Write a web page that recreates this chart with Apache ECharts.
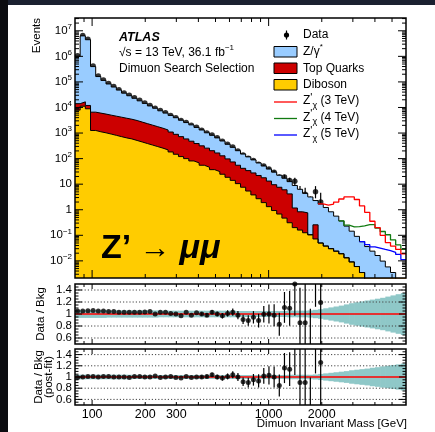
<!DOCTYPE html>
<html>
<head>
<meta charset="utf-8">
<title>Z' to mumu - dimuon invariant mass</title>
<script src="https://cdn.jsdelivr.net/npm/echarts@6.0.0/dist/echarts.min.js"></script>
<style>
  html, body { margin: 0; padding: 0; background: #fff; }
  #chart { position: absolute; left: 0; top: 0; width: 435px; height: 432px; }
  .edge-top { position: absolute; left: 0; top: 0; width: 435px; height: 5px; background: #1b2130; }
  .edge-left { position: absolute; left: 0; top: 0; width: 8px; height: 432px; background: #0b0c10; }
</style>
</head>
<body>
<div id="chart"></div>
<div class="edge-top"></div>
<div class="edge-left"></div>
<script>
var FONT = '"Liberation Sans", Arial, Helvetica, sans-serif'
var colors = { zgamma: '#99ccff', top: '#cc0000', diboson: '#ffcc00', band: '#8fc8c8' }

// log-spaced mass bins [GeV]
var binEdges = [80, 85.58, 91.56, 97.95, 104.8, 112.1, 119.9, 128.3, 137.2, 146.8,
  157.1, 168.0, 179.8, 192.3, 205.7, 220.1, 235.5, 251.9, 269.5, 288.3,
  308.4, 329.9, 353.0, 377.6, 404.0, 432.2, 462.3, 494.6, 529.1, 566.0,
  605.5, 647.8, 693.0, 741.3, 793.0, 848.4, 907.6, 970.9, 1038.7, 1111.2,
  1188.7, 1271.7, 1360.5, 1455.4, 1557.0, 1665.7, 1781.9, 1906.3, 2039.3, 2181.6,
  2333.9, 2496.8, 2671.0, 2857.4, 3056.9, 3270.2, 3498.5, 3742.6, 4003.8, 4283.2,
  4582.2, 4902.0, 5244.1, 5610.1, 6000]

// expected events per bin
var zGamma = [9.9e5, 6.3e6, 4.46e6, 3.91e5, 1.56e5, 1.09e5, 7.8e4, 5.85e4, 4.37e4, 3.25e4,
  2.53e4, 1.98e4, 1.55e4, 1.21e4, 9460, 7550, 5860, 4710, 3800, 3090,
  2440, 1980, 1610, 1270, 1000, 766, 609, 480, 361, 265,
  201, 149, 109, 83, 61.6, 45.7, 33.5, 25.7, 20.0, 14.8,
  11.0, 8.4, 7.74, 5.48, 3.61, 3.06, 2.03, 1.61, 1.19, 0.80,
  0.538, 0.344, 0.216, 0.136, 0.085, 0.0527, 0.0363, 0.024, 0.0162, 0.0098,
  0.0058, 0.0035, 0, 0]
var topQuarks = [6200, 5400, 3100, 5300, 4900, 4500, 4100, 3760, 3450, 3150,
  2880, 2580, 2240, 1950, 1700, 1480, 1290, 1100, 914, 743,
  604, 489, 398, 321, 261, 211, 167, 135, 104, 79,
  60, 44.5, 34.1, 28.5, 23.7, 19.2, 15.9, 11.9, 8.6, 6.9,
  5.56, 3.86, 0.97, 0.67, 0.63, 0, 0.185, 0, 0, 0,
  0, 0, 0, 0, 0, 0, 0, 0, 0, 0,
  0, 0, 0, 0]
var diboson = [7900, 11200, 8900, 1260, 1120, 1020, 912, 813, 724, 646,
  589, 513, 447, 389, 339, 295, 257, 219, 182, 148,
  120, 100, 81, 68, 55, 46, 37, 31, 24.5, 18.6,
  14.1, 10.5, 7.6, 5.4, 3.8, 2.7, 1.9, 1.32, 0.93, 0.68,
  0.47, 0.31, 0.20, 0.16, 0.126, 0.105, 0.072, 0.050, 0.038, 0.030,
  0.024, 0.019, 0.0132, 0.0091, 0.0060, 0.0035, 0, 0, 0, 0,
  0, 0, 0, 0]

// background + signal lines, starting at the given bin
var zp3Start = 47
var zp3 = [1.7, 1.51, 1.66, 2.0, 2.63, 3.16, 3.16, 2.51, 1.41, 0.79, 0.355, 0.20, 0.10, 0.052, 0.038, 0.028, 0.019]
var zp4Start = 51
var zp4 = [0.37, 0.25, 0.214, 0.219, 0.234, 0.263, 0.263, 0.19, 0.141, 0.105, 0.066, 0.042, 0.028]
var zp5Start = 55
var zp5 = [0.057, 0.043, 0.0355, 0.0316, 0.028, 0.025, 0.0214, 0.0178, 0.0112]

// observed events (bins after these are empty)
var dataEvents = [1.05e6, 6.6e6, 4.7e6, 4.2e5, 1.7e5, 1.2e5, 8.7e4, 6.6e4, 4.9e4, 3.7e4,
  3.0e4, 2.4e4, 1.9e4, 1.5e4, 1.2e4, 9300, 7600, 6200, 4900, 4000,
  3100, 2600, 2000, 1700, 1300, 1000, 840, 650, 475, 367,
  283, 200, 138, 104, 84, 60, 51, 39, 29, 19,
  19, 14, 13, 5, 4, 1, 5, 2]
// statistical errors on data, from bin errFrom on (smaller ones are hidden by the markers)
var errFrom = 24
var dataErrUp = [36, 32, 29, 25.5, 21.8, 19.2, 16.8, 14.1, 11.7, 10.2, 9.2, 7.7, 7.1, 6.2, 5.4, 4.4, 4.4, 3.7, 4.7, 3.4, 3.2, 2.3, 3.4, 2.6]
var dataErrDown = [36, 32, 29, 25.5, 21.8, 19.2, 16.8, 14.1, 11.7, 10.2, 9.2, 7.7, 7.1, 6.2, 5.4, 4.4, 4.4, 3.7, 4.6, 2.2, 1.9, 0.83, 2.2, 1.3]

// data / background
var ratioPre = [1.05, 1.05, 1.055, 1.06, 1.05, 1.05, 1.04, 1.04, 1.03, 1.03,
  1.03, 1.03, 1.03, 1.035, 1.04, 1.0, 1.03, 1.03, 1.01, 1.0,
  0.97, 1.03, 0.98, 1.02, 1.0, 0.98, 1.03, 1.0, 0.97, 1.01,
  1.03, 0.98, 0.91, 0.89, 0.945, 0.89, 0.995, 1.0, 0.98, 0.83,
  1.11, 1.095, 1.5, 0.855, 0.855, 0.33, 2.0, 1.19]
var ratioPost = [0.99, 1.0, 1.01, 1.01, 1.0, 1.01, 1.01, 1.0, 1.0, 1.0,
  0.99, 1.01, 1.01, 1.0, 1.0, 1.02, 0.99, 1.0, 1.01, 0.99,
  0.98, 1.01, 0.99, 1.0, 1.0, 1.01, 1.04, 1.0, 0.98, 1.01,
  1.04, 1.0, 0.915, 0.9, 0.95, 0.93, 1.02, 1.03, 1.0, 0.85,
  1.16, 1.14, 1.6, 0.9, 0.9, 0.3, 1.9, 1.26]

// relative background uncertainty (half width of band)
var bandPre = [0.065, 0.065, 0.065, 0.065, 0.065, 0.065, 0.06, 0.06, 0.06, 0.06,
  0.06, 0.06, 0.06, 0.06, 0.06, 0.06, 0.055, 0.055, 0.055, 0.055,
  0.055, 0.055, 0.055, 0.055, 0.055, 0.055, 0.055, 0.055, 0.055, 0.055,
  0.055, 0.05, 0.05, 0.05, 0.05, 0.05, 0.05, 0.05, 0.05, 0.05,
  0.05, 0.055, 0.055, 0.055, 0.055, 0.06, 0.07, 0.08, 0.095, 0.11,
  0.125, 0.14, 0.16, 0.18, 0.195, 0.21, 0.225, 0.24, 0.255, 0.27,
  0.29, 0.31, 0.33, 0.35]
var bandPost = [0.04, 0.04, 0.04, 0.04, 0.04, 0.04, 0.04, 0.04, 0.04, 0.04,
  0.04, 0.035, 0.035, 0.035, 0.035, 0.035, 0.035, 0.035, 0.035, 0.035,
  0.035, 0.035, 0.035, 0.035, 0.035, 0.035, 0.035, 0.035, 0.035, 0.035,
  0.035, 0.035, 0.035, 0.035, 0.035, 0.035, 0.035, 0.035, 0.035, 0.035,
  0.035, 0.04, 0.04, 0.04, 0.04, 0.04, 0.045, 0.055, 0.065, 0.075,
  0.085, 0.095, 0.105, 0.12, 0.13, 0.14, 0.15, 0.165, 0.175, 0.19,
  0.2, 0.215, 0.225, 0.24]

// axis ticks / labels
var massLabels = [100, 200, 300, 1000, 2000]
var massTicksMajor = [100, 1000]
var massTicksMinor = [90, 200, 300, 400, 500, 600, 700, 800, 900, 2000, 3000, 4000, 5000]
var eventDecades = [-2, -1, 0, 1, 2, 3, 4, 5, 6, 7]
var ratioLabels = [0.6, 0.8, 1, 1.2, 1.4]
var ratioTicksMinor = [0.55, 0.65, 0.7, 0.75, 0.85, 0.9, 0.95, 1.05, 1.1, 1.15, 1.25, 1.3, 1.35, 1.45]

var lg = Math.log10
var XMIN = lg(80), XMAX = lg(6000)
var YMIN = -2.67, YMAX = 7.5
var FLOOR = -10

function logOrFloor(v) { return v > 0 ? lg(v) : FLOOR }
var centres = []
for (var i = 0; i < binEdges.length - 1; i++) centres.push((lg(binEdges[i]) + lg(binEdges[i + 1])) / 2)

var stackTop = diboson.map(function (d, i) { return d + topQuarks[i] })
var stackAll = stackTop.map(function (d, i) { return d + zGamma[i] })

function stepData(values, start) {
  var pts = []
  for (var i = 0; i < values.length; i++) pts.push([lg(binEdges[start + i]), logOrFloor(values[i])])
  pts.push([lg(binEdges[start + values.length]), logOrFloor(values[values.length - 1])])
  return pts
}

function histSeries(values, fill) {
  return {
    type: 'line', xAxisIndex: 0, yAxisIndex: 0, step: 'end', symbol: 'none', clip: true, silent: true,
    data: stepData(values, 0),
    lineStyle: { color: '#000', width: 1 },
    areaStyle: { color: fill, opacity: 1, origin: 'start' }
  }
}
function signalSeries(values, start, color) {
  return {
    type: 'line', xAxisIndex: 0, yAxisIndex: 0, step: 'end', symbol: 'none', clip: true, silent: true,
    data: stepData(values, start),
    lineStyle: { color: color, width: 1.3 }
  }
}
function errorBars(gi, items) {
  return {
    type: 'custom', xAxisIndex: gi, yAxisIndex: gi, clip: true, silent: true,
    encode: { x: 0, y: [1, 2] },
    data: items,
    renderItem: function (params, api) {
      var a = api.coord([api.value(0), api.value(1)])
      var b = api.coord([api.value(0), api.value(2)])
      return { type: 'line', shape: { x1: a[0], y1: a[1], x2: b[0], y2: b[1] }, style: { stroke: '#000', lineWidth: 1.2 } }
    }
  }
}
function points(gi, items, size) {
  return {
    type: 'scatter', xAxisIndex: gi, yAxisIndex: gi, clip: true, silent: true,
    symbol: 'circle', symbolSize: size, itemStyle: { color: '#000' }, data: items
  }
}
function bandSeries(gi, half) {
  var items = half.map(function (h, i) { return [lg(binEdges[i]), lg(binEdges[i + 1]), 1 - h, 1 + h] })
  return {
    type: 'custom', xAxisIndex: gi, yAxisIndex: gi, clip: true, silent: true,
    encode: { x: [0, 1], y: [2, 3] },
    data: items,
    renderItem: function (params, api) {
      var p0 = api.coord([api.value(0), api.value(3)])
      var p1 = api.coord([api.value(1), api.value(2)])
      return { type: 'rect', shape: { x: p0[0], y: p0[1], width: p1[0] - p0[0] + 0.6, height: p1[1] - p0[1] }, style: { fill: colors.band } }
    }
  }
}
function guideSeries(gi) {
  var items = [[0.6, 0], [0.8, 0], [1.2, 0], [1.4, 0], [1, 1]]
  return {
    type: 'custom', xAxisIndex: gi, yAxisIndex: gi, silent: true, data: items,
    renderItem: function (params, api) {
      var cs = params.coordSys
      var y = api.coord([XMIN, api.value(0)])[1]
      var red = api.value(1) === 1
      return {
        type: 'line', shape: { x1: cs.x, y1: y, x2: cs.x + cs.width, y2: y },
        style: red ? { stroke: '#ff0000', lineWidth: 1.6 } : { stroke: '#444', lineWidth: 1, lineDash: [1.2, 2] }
      }
    }
  }
}
// ratio-axis tick labels, placed through the axis scale
function ratioLabelSeries(gi) {
  return {
    type: 'custom', xAxisIndex: gi, yAxisIndex: gi, silent: true, clip: false, z: 6,
    data: ratioLabels.map(function (v) { return [XMIN, v] }),
    renderItem: function (params, api) {
      var cs = params.coordSys
      var v = api.value(1)
      var y = api.coord([XMIN, v])[1]
      return {
        type: 'text', x: cs.x - 3, y: y,
        style: {
          text: String(v), fill: '#000', fontSize: 11.5, fontFamily: FONT,
          align: 'right', verticalAlign: 'middle', textAlign: 'right', textVerticalAlign: 'middle'
        }
      }
    }
  }
}
function frameSeries(gi, yRef, yMaj, yMin, lx, ly) {
  var items = [[0, 4, 0]]
  massTicksMajor.forEach(function (v) { items.push([lg(v), 0, lx[0]], [lg(v), 1, lx[0]]) })
  massTicksMinor.forEach(function (v) { items.push([lg(v), 0, lx[1]], [lg(v), 1, lx[1]]) })
  yMaj.forEach(function (v) { items.push([v, 2, ly[0]], [v, 3, ly[0]]) })
  yMin.forEach(function (v) { items.push([v, 2, ly[1]], [v, 3, ly[1]]) })
  return {
    type: 'custom', xAxisIndex: gi, yAxisIndex: gi, silent: true, clip: false, z: 5, data: items,
    renderItem: function (params, api) {
      var cs = params.coordSys
      var v = api.value(0), side = api.value(1), len = api.value(2)
      if (side === 4) {
        return { type: 'rect', shape: { x: cs.x, y: cs.y, width: cs.width, height: cs.height }, style: { fill: 'none', stroke: '#000', lineWidth: 1.5 } }
      }
      var s
      if (side < 2) {
        var px = api.coord([v, yRef])[0]
        var py = side === 0 ? cs.y + cs.height : cs.y
        s = { x1: px, y1: py, x2: px, y2: side === 0 ? py - len : py + len }
      } else {
        var qy = api.coord([XMIN, v])[1]
        var qx = side === 2 ? cs.x : cs.x + cs.width
        s = { x1: qx, y1: qy, x2: side === 2 ? qx + len : qx - len, y2: qy }
      }
      return { type: 'line', shape: s, style: { stroke: '#000', lineWidth: 1 } }
    }
  }
}

// minor log ticks of the event axis
var eventMinor = []
for (var n = -3; n <= 7; n++) {
  for (var k = 2; k <= 9; k++) {
    var t = n + lg(k)
    if (t > YMIN && t < YMAX) eventMinor.push(t)
  }
}

// data items
var mainPts = [], mainErr = [], prePts = [], preErr = [], postPts = [], postErr = []
dataEvents.forEach(function (nv, i) {
  mainPts.push([centres[i], lg(nv)])
  prePts.push([centres[i], ratioPre[i]])
  postPts.push([centres[i], ratioPost[i]])
  if (i >= errFrom) {
    var up = dataErrUp[i - errFrom], dn = dataErrDown[i - errFrom]
    mainErr.push([centres[i], logOrFloor(nv - dn), lg(nv + up)])
    preErr.push([centres[i], ratioPre[i] * (1 - dn / nv), ratioPre[i] * (1 + up / nv)])
    postErr.push([centres[i], ratioPost[i] * (1 - dn / nv), ratioPost[i] * (1 + up / nv)])
  }
})

function decadeLabel(v) {
  if (v === 0) return '{b|1}'
  if (v === 1) return '{b|10}'
  return '{b|10}{s|' + (v < 0 ? '\u2212' + (-v) : v) + '}'
}

function xAxisFor(gi) {
  return {
    type: 'value', gridIndex: gi, min: XMIN, max: XMAX,
    axisLine: { show: false }, axisTick: { show: false }, splitLine: { show: false },
    axisLabel: gi === 2 ? {
      customValues: massLabels.map(lg), margin: 3, color: '#000', fontSize: 12.5, fontFamily: FONT,
      showMinLabel: true, showMaxLabel: true, hideOverlap: false,
      formatter: function (v) { return String(Math.round(Math.pow(10, v))) }
    } : { show: false }
  }
}
function ratioAxis(gi) {
  return {
    type: 'value', gridIndex: gi, min: 0.5, max: 1.5,
    axisLine: { show: false }, axisTick: { show: false }, splitLine: { show: false },
    axisLabel: { show: false }
  }
}

function txt(x, y, text, size, o) {
  o = o || {}
  return {
    type: 'text', x: x, y: y, z: 100, silent: true, rotation: o.rotation || 0,
    style: {
      text: text, fill: '#000', fontSize: size, fontFamily: FONT,
      fontWeight: o.weight || 'normal', fontStyle: o.italic ? 'italic' : 'normal',
      align: o.align || 'left', verticalAlign: 'middle',
      textAlign: o.align || 'left', textVerticalAlign: 'middle',
      rich: o.rich
    }
  }
}
function tok(size, extra) {
  return Object.assign({ fontSize: size, fontFamily: FONT, fill: '#000' }, extra || {})
}
var legendRich = {
  b: tok(12, { lineHeight: 18 }),
  p: tok(8, { lineHeight: 8, verticalAlign: 'top' }),
  q: tok(11, { lineHeight: 11, verticalAlign: 'top' }),
  c: tok(9, { lineHeight: 9, verticalAlign: 'bottom' })
}
var lx = 274, ltx = 303
var graphics = [
  txt(37, 18, 'Events', 11.5, { rotation: Math.PI / 2, align: 'right' }),
  txt(40.5, 314, 'Data / Bkg', 11.5, { rotation: Math.PI / 2, align: 'center' }),
  txt(38.5, 377, 'Data / Bkg', 11.5, { rotation: Math.PI / 2, align: 'center' }),
  txt(49, 377, '(post-fit)', 11.5, { rotation: Math.PI / 2, align: 'center' }),
  txt(119, 37.5, 'ATLAS', 12.5, { weight: 'bold', italic: true }),
  txt(119, 53, '{b|\u221As = 13 TeV, 36.1 fb}{p|\u22121}', 12, { rich: legendRich }),
  txt(119, 68.5, 'Dimuon Search Selection', 12),
  txt(407, 424, 'Dimuon Invariant Mass [GeV]', 11.5, { align: 'right' }),
  txt(101, 249, '{z|Z\u2019}{a| \u2192 }{m|\u03BC\u03BC}', 34, {
    rich: {
      z: tok(34, { fontWeight: 'bold' }),
      a: tok(31),
      m: tok(34, { fontWeight: 'bold', fontStyle: 'italic' })
    }
  }),
  // legend
  { type: 'line', z: 100, silent: true, shape: { x1: 286.5, y1: 30.5, x2: 286.5, y2: 39.5 }, style: { stroke: '#000', lineWidth: 1.2 } },
  { type: 'circle', z: 100, silent: true, shape: { cx: 286.5, cy: 35, r: 2.6 }, style: { fill: '#000' } },
  txt(ltx, 35, 'Data', 12),
  { type: 'rect', z: 100, silent: true, shape: { x: lx, y: 46.5, width: 23, height: 10.5 }, style: { fill: colors.zgamma, stroke: '#000', lineWidth: 1 } },
  txt(ltx, 52, '{b|Z/\u03B3}{p|*}', 12, { rich: legendRich }),
  { type: 'rect', z: 100, silent: true, shape: { x: lx, y: 63, width: 23, height: 10.5 }, style: { fill: colors.top, stroke: '#000', lineWidth: 1 } },
  txt(ltx, 68.5, 'Top Quarks', 12),
  { type: 'rect', z: 100, silent: true, shape: { x: lx, y: 79.5, width: 23, height: 10.5 }, style: { fill: colors.diboson, stroke: '#000', lineWidth: 1 } },
  txt(ltx, 85, 'Diboson', 12)
]
var sigLegend = [['3', '#ff0000', 102], ['4', '#117a11', 118.5], ['5', '#0000ff', 135]]
sigLegend.forEach(function (s) {
  graphics.push({ type: 'line', z: 100, silent: true, shape: { x1: lx, y1: s[2], x2: lx + 23, y2: s[2] }, style: { stroke: s[1], lineWidth: 1.3 } })
  graphics.push(txt(ltx, s[2] - 1, '{b|Z}{q|\'}{c|\u03C7}{b| (' + s[0] + ' TeV)}', 12, { rich: legendRich }))
})

var chart = echarts.init(document.getElementById('chart'))
chart.setOption({
  animation: false,
  backgroundColor: '#fff',
  textStyle: { fontFamily: FONT },
  grid: [
    { left: 75, right: 29, top: 18, height: 260, outerBoundsMode: 'none' },
    { left: 75, right: 29, top: 284, height: 60, outerBoundsMode: 'none' },
    { left: 75, right: 29, top: 349, height: 56, outerBoundsMode: 'none' }
  ],
  xAxis: [xAxisFor(0), xAxisFor(1), xAxisFor(2)],
  yAxis: [
    {
      type: 'value', gridIndex: 0, min: YMIN, max: YMAX,
      axisLine: { show: false }, axisTick: { show: false }, splitLine: { show: false },
      axisLabel: {
        customValues: eventDecades, margin: 3, color: '#000', formatter: decadeLabel,
        showMinLabel: true, showMaxLabel: true, hideOverlap: false,
        rich: {
          b: { fontSize: 11.5, lineHeight: 16, fontFamily: FONT, color: '#000' },
          s: { fontSize: 8, lineHeight: 8, verticalAlign: 'top', fontFamily: FONT, color: '#000' }
        }
      }
    },
    ratioAxis(1),
    ratioAxis(2)
  ],
  series: [
    histSeries(stackAll, colors.zgamma),
    histSeries(stackTop, colors.top),
    histSeries(diboson, colors.diboson),
    signalSeries(zp5, zp5Start, '#0000ff'),
    signalSeries(zp4, zp4Start, '#117a11'),
    signalSeries(zp3, zp3Start, '#ff0000'),
    errorBars(0, mainErr),
    points(0, mainPts, 5.5),
    frameSeries(0, YMIN, eventDecades, eventMinor, [8, 4], [8, 4]),

    bandSeries(1, bandPre),
    guideSeries(1),
    errorBars(1, preErr),
    points(1, prePts, 5),
    frameSeries(1, 0.5, ratioLabels, ratioTicksMinor, [5, 3], [7, 3.5]),
    ratioLabelSeries(1),

    bandSeries(2, bandPost),
    guideSeries(2),
    errorBars(2, postErr),
    points(2, postPts, 5),
    frameSeries(2, 0.5, ratioLabels, ratioTicksMinor, [5, 3], [7, 3.5]),
    ratioLabelSeries(2)
  ],
  graphic: { elements: graphics }
})
</script>
</body>
</html>
